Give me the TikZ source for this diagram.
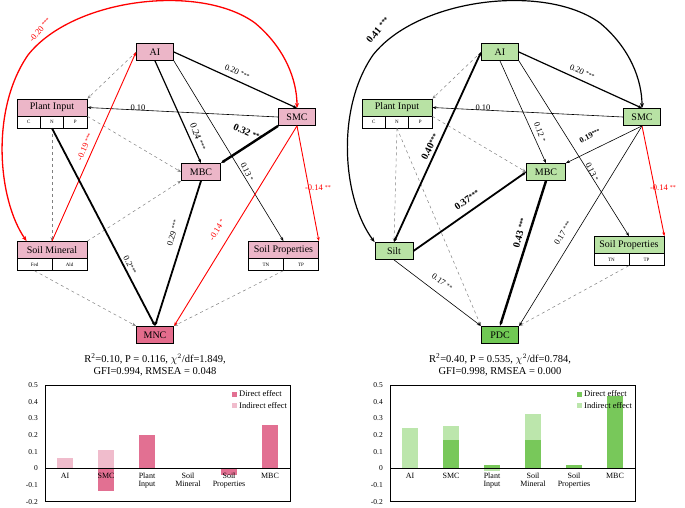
\documentclass[tikz,border=0pt]{standalone}
\usepackage{fontspec}
\setmainfont{Liberation Serif}
\usetikzlibrary{arrows.meta}
\definecolor{pk}{RGB}{236,182,200}
\definecolor{pkd}{RGB}{228,108,140}
\definecolor{gr}{RGB}{184,226,164}
\definecolor{grd}{RGB}{112,200,84}
\definecolor{bpd}{RGB}{226,112,146}
\definecolor{bpi}{RGB}{240,188,204}
\definecolor{bgd}{RGB}{120,200,90}
\definecolor{bgi}{RGB}{188,230,172}
\newcommand\stz[1]{\raisebox{1.5pt}{\scalebox{0.7}{#1}}}
\tikzset{
 box/.style={draw,line width=0.8pt,minimum height=17pt,inner sep=0pt,font=\fontsize{10}{10}\selectfont},
 cell/.style={draw,line width=0.6pt,fill=white,minimum height=12pt,inner sep=0pt,font=\fontsize{5}{5}\selectfont},
 ar/.style={-{Stealth[length=4pt,width=3pt]}},
 thin/.style={ar,line width=0.6pt},
 med/.style={ar,line width=1.2pt},
 thk/.style={ar,line width=1.8pt},
 vthk/.style={ar,line width=2.4pt},
 rd/.style={ar,line width=0.9pt,red},
 dsh/.style={ar,line width=0.5pt,gray,dashed},
 lab/.style={font=\fontsize{8.5}{8.5}\selectfont,inner sep=0pt},
 blab/.style={font=\bfseries\fontsize{10}{10}\selectfont,inner sep=0pt},
 tick/.style={font=\fontsize{7.5}{7.5}\selectfont,anchor=east,inner sep=0pt},
 cat/.style={font=\fontsize{8}{8}\selectfont,align=center,inner sep=0pt,anchor=north},
 stat/.style={font=\fontsize{10.5}{12}\selectfont,align=center,inner sep=0pt}
}
\begin{document}
\begin{tikzpicture}[x=1pt,y=-1pt]
\useasboundingbox (0,0) rectangle (685,507);
% ================= LEFT =================
\node[box,fill=pk,minimum width=37pt] (LAI) at (155,52) {AI};
\node[box,fill=pk,minimum width=70pt] (LPI) at (52,107.5) {Plant Input};
\node[cell,minimum width=23.3pt] (LC) at (28.7,122) {C};
\node[cell,minimum width=23.3pt] (LN) at (52,122) {N};
\node[cell,minimum width=23.3pt] (LP) at (75.3,122) {P};
\node[box,fill=pk,minimum width=37pt] (LSMC) at (297,117) {SMC};
\node[box,fill=pk,minimum width=39pt] (LMBC) at (201,172) {MBC};
\node[box,fill=pk,minimum width=70pt] (LSM) at (52,250) {Soil Mineral};
\node[cell,minimum width=35pt] (LFed) at (34.5,264.5) {Fed};
\node[cell,minimum width=35pt] (LAld) at (69.5,264.5) {Ald};
\node[box,fill=pk,minimum width=70pt] (LSP) at (283.5,250) {Soil Properties};
\node[cell,minimum width=35pt] (LTN) at (266,264.5) {TN};
\node[cell,minimum width=35pt] (LTP) at (301,264.5) {TP};
\node[box,fill=pkd,minimum width=37pt,line width=1.2pt] (LMNC) at (155,335) {MNC};

\draw[rd,line width=1.3pt,{Stealth[length=5pt,width=4pt]}-{Stealth[length=5pt,width=4pt]}] (LSM.north west) ++(10,0) coordinate (lsa)
  .. controls (-2,200) and (-10,110) .. (28,55) .. controls (73,-2) and (200,-17) .. (255,23)
  .. controls (285,48) and (297,80) .. (LSMC.north);
\node[lab,red,rotate=50] at (40,30) {-0.20 \stz{***}};
\draw[dsh] (LAI.west) -- (LPI.north east);
\draw[dsh] (LPI.south east) -- (LMBC.west);
\draw[dsh] (LN.south) -- (LSM.north);
\draw[dsh] (LSM.north east) -- (LMBC.south west);
\draw[dsh] (LFed.south) -- (LMNC.north west);
\draw[dsh] (LTP.south west) -- (LMNC.north east);
\draw[med] (LAI.east) -- (LSMC.north);
\node[lab,rotate=-24] at (237,72) {0.20 \stz{***}};
\draw[med] (LAI.south) -- (LMBC.north);
\node[lab,font=\fontsize{9.5}{9.5}\selectfont,rotate=-69] at (198,137) {0.24 \stz{***}};
\draw[thin] (LAI.south east) -- (LSP.north);
\node[lab,rotate=-65] at (247,172) {0.13 \stz{*}};
\draw[thin] (LSMC.west) -- (LPI.east);
\node[lab] at (138,108) {0.10};
\draw[vthk] (LSMC.south west) -- (LMBC.north east);
\node[blab,rotate=-24] at (248,133) {0.32 \stz{***}};
\draw[rd] (LSMC.south) -- (LSP.north east);
\node[lab,red] at (318,188) {-0.14 \stz{**}};
\draw[rd] (LSMC.south) -- (LMNC.north east);
\node[lab,red,rotate=58] at (217,230) {-0.14 \stz{*}};
\draw[rd] (LSM.north) -- (LAI.west);
\node[lab,red,rotate=66] at (85,147) {-0.19 \stz{***}};
\draw[thk] (LN.south) -- (LMNC.north);
\node[lab,rotate=-64] at (130,265) {0.2\stz{***}};
\draw[thk] (LMBC.south) -- (LMNC.north);
\node[lab,rotate=74] at (173,233) {0.29 \stz{***}};
\node[stat] (LST) at (155,365) {R\textsuperscript{2}=0.10, P = 0.116, $\chi^2$/df=1.849,\\GFI=0.994, RMSEA = 0.048};
% left chart
\fill[bpi] (57,468) rectangle (73,458);
\fill[bpi] (98,468) rectangle (114,449.6);
\fill[bpd] (98,468) rectangle (114,491.4);
\fill[bpd] (139,468) rectangle (155,435.4);
\fill[bpd] (180,468) rectangle (196,468.8);
\fill[bpd] (221,468) rectangle (237,474.7);
\fill[bpd] (262,468) rectangle (278,424.6);
\draw[line width=0.6pt] (45,385) rectangle (290,501);
\draw[line width=0.6pt] (45,468) -- (290,468);
\foreach \v/\t in {0/0.5,1/0.4,2/0.3,3/0.2,4/0.1,5/0,6/-0.1,7/-0.2}
  \node[tick] at (38,{385+\v*16.7}) {\t};
\foreach \x/\t in {65/AI,106/SMC,147/Plant\\Input,188/Soil\\Mineral,229/Soil\\Properties,270/MBC}
  \node[cat] at (\x,473) {\t};
\fill[bpd] (232,391.5) rectangle (237,396.5);
\node[lab,anchor=west] at (239,394) {Direct effect};
\fill[bpi] (232,403) rectangle (237,408);
\node[lab,anchor=west] at (239,405.5) {Indirect effect};
% ================= RIGHT =================
\node[box,fill=gr,minimum width=37pt] (RAI) at (500,52) {AI};
\node[box,fill=gr,minimum width=70pt] (RPI) at (397,107.5) {Plant Input};
\node[cell,minimum width=23.3pt] (RC) at (373.7,122) {C};
\node[cell,minimum width=23.3pt] (RN) at (397,122) {N};
\node[cell,minimum width=23.3pt] (RP) at (420.3,122) {P};
\node[box,fill=gr,minimum width=37pt] (RSMC) at (642,117) {SMC};
\node[box,fill=gr,minimum width=39pt] (RMBC) at (546,172) {MBC};
\node[box,fill=gr,minimum width=38pt] (RSilt) at (394,251) {Silt};
\node[box,fill=gr,minimum width=70pt] (RSP) at (629,245) {Soil Properties};
\node[cell,minimum width=35pt] (RTN) at (611.5,259.5) {TN};
\node[cell,minimum width=35pt] (RTP) at (646.5,259.5) {TP};
\node[box,fill=grd,minimum width=37pt,line width=1.2pt] (RPDC) at (500,335) {PDC};

\draw[line width=1.2pt,{Stealth[length=5pt,width=4pt]}-{Stealth[length=5pt,width=4pt]}] (RSilt.north west)
  .. controls (343,200) and (335,110) .. (373,55) .. controls (418,-2) and (545,-17) .. (600,23)
  .. controls (630,48) and (642,80) .. (RSMC.north);
\node[blab,rotate=50] at (378,30) {0.41 \stz{***}};
\draw[dsh] (RAI.west) -- (RPI.north east);
\draw[dsh] (RPI.south east) -- (RMBC.west);
\draw[dsh] (RN.south) -- (RSilt.north);
\draw[dsh] (RN.south) -- (RPDC.north west);
\draw[dsh] (RTP.south west) -- (RPDC.north east);
\draw[med] (RAI.east) -- (RSMC.north);
\node[lab,rotate=-24] at (582,72) {0.20 \stz{***}};
\draw[thin] (RAI.south) -- (RMBC.north);
\node[lab,rotate=-70] at (540,132) {0.12 \stz{*}};
\draw[thin] (RAI.south east) -- (RSP.north);
\node[lab,rotate=-65] at (592,172) {0.13 \stz{*}};
\draw[thin] (RSMC.west) -- (RPI.east);
\node[lab] at (483,108) {0.10};
\draw[thin] (RSMC.south) -- (RMBC.north east);
\node[lab,font=\bfseries\fontsize{8}{8}\selectfont,rotate=27] at (590,136) {0.19\stz{***}};
\draw[rd] (RSMC.south) -- (RSP.north east);
\node[lab,red] at (663,188) {-0.14 \stz{**}};
\draw[thin] (RSMC.south) -- (RPDC.north east);
\node[lab,rotate=58] at (563,233) {0.17 \stz{***}};
\draw[thk,{Stealth[length=4pt,width=3pt]}-{Stealth[length=4pt,width=3pt]}] (RAI.west) -- (RSilt.north);
\node[blab,rotate=63] at (430,147) {0.40\stz{***}};
\draw[thk] (RSilt.east) -- (RMBC.west);
\node[blab,rotate=34.5] at (467,200) {0.37\stz{***}};
\draw[vthk] (RMBC.south) -- (RPDC.north);
\node[blab,rotate=75] at (520,233) {0.43 \stz{***}};
\draw[thin] (RSilt.south) -- (RPDC.north west);
\node[lab,rotate=-36] at (442,282) {0.17 \stz{**}};
\node[stat] (RST) at (500,365) {R\textsuperscript{2}=0.40, P = 0.535, $\chi^2$/df=0.784,\\GFI=0.998, RMSEA = 0.000};
% right chart
\fill[bgi] (402,468) rectangle (418,427.9);
\fill[bgi] (443,468) rectangle (459,426.3);
\fill[bgd] (443,468) rectangle (459,439.6);
\fill[bgd] (484,468) rectangle (500,464.7);
\fill[bgi] (484,468) rectangle (500,471.3);
\fill[bgi] (525,468) rectangle (541,413.7);
\fill[bgd] (525,468) rectangle (541,440.4);
\fill[bgd] (566,468) rectangle (582,464.7);
\fill[bgd] (607,468) rectangle (623,396.2);
\draw[line width=0.6pt] (390,385) rectangle (635,501);
\draw[line width=0.6pt] (390,468) -- (635,468);
\foreach \v/\t in {0/0.5,1/0.4,2/0.3,3/0.2,4/0.1,5/0,6/-0.1,7/-0.2}
  \node[tick] at (383,{385+\v*16.7}) {\t};
\foreach \x/\t in {410/AI,451/SMC,492/Plant\\Input,533/Soil\\Mineral,574/Soil\\Properties,615/MBC}
  \node[cat] at (\x,473) {\t};
\fill[bgd] (577,391.5) rectangle (582,396.5);
\node[lab,anchor=west] at (584,394) {Direct effect};
\fill[bgi] (577,403) rectangle (582,408);
\node[lab,anchor=west] at (584,405.5) {Indirect effect};
\end{tikzpicture}
\end{document}
